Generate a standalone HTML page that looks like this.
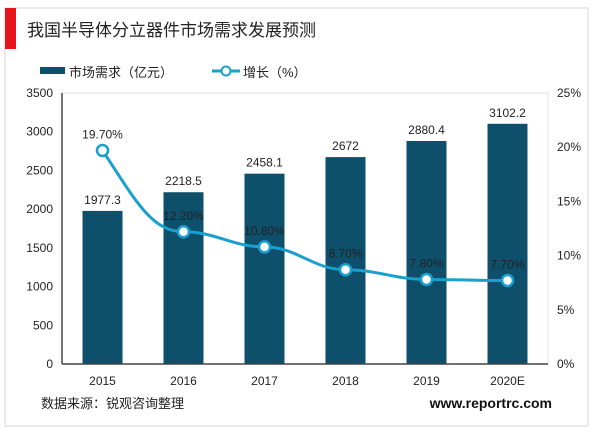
<!DOCTYPE html>
<html><head><meta charset="utf-8"><style>
body{margin:0;background:#fff;width:600px;height:433px;overflow:hidden;font-family:"Liberation Sans","Noto Sans CJK SC",sans-serif}
</style></head><body>
<svg width="600" height="433" xmlns="http://www.w3.org/2000/svg" font-family="Liberation Sans, Noto Sans CJK SC, sans-serif">
<rect x="5" y="8" width="583" height="418" fill="#fff" stroke="#e4e4e4" stroke-width="1.5"/>
<rect x="5" y="8" width="11" height="41" fill="#e8141c"/>
<text x="27" y="36" font-size="17" fill="#222">我国半导体分立器件市场需求发展预测</text>
<g>
<rect x="40" y="67" width="25" height="7" fill="#0e4f6b"/>
<text x="69" y="77" font-size="13" fill="#222">市场需求（亿元）</text>
<line x1="212" y1="71" x2="240" y2="71" stroke="#1aa0cf" stroke-width="3"/>
<circle cx="226" cy="71" r="4.5" fill="#fff" stroke="#1aa0cf" stroke-width="2"/>
<text x="243" y="77" font-size="13" fill="#222">增长（%）</text>
</g>
<g id="chart"></g>
<text x="41" y="408" font-size="13" fill="#222">数据来源：锐观咨询整理</text>
<text x="552" y="408" font-size="14" font-weight="bold" fill="#111" text-anchor="end">www.reportrc.com</text>
</svg>
<script>
const categories=["2015","2016","2017","2018","2019","2020E"];
const demand=[1977.3,2218.5,2458.1,2672,2880.4,3102.2];
const demandLabels=["1977.3","2218.5","2458.1","2672","2880.4","3102.2"];
const growth=[19.7,12.2,10.8,8.7,7.8,7.7];
const leftTicks=[0,500,1000,1500,2000,2500,3000,3500];
const rightTicks=[0,5,10,15,20,25];
const L=62,R=548,T=93,B=364;
const NS="http://www.w3.org/2000/svg";
const g=document.getElementById('chart');
function el(t,a,txt){const e=document.createElementNS(NS,t);for(const k in a)e.setAttribute(k,a[k]);if(txt!==undefined)e.textContent=txt;g.appendChild(e);return e;}
const step=(R-L)/categories.length;
const x=i=>L+step*(i+0.5);
const yL=v=>B-(v/3500)*(B-T);
const yR=v=>B-(v/25)*(B-T);
let e=el('rect',{x:L,y:T,width:R-L,height:B-T,fill:'none',stroke:'#e0e0e0'});

leftTicks.forEach(v=>{e=el('text',{x:L-9,y:yL(v)+4,'font-size':12,'text-anchor':'end',fill:'#222'},String(v));
});
rightTicks.forEach(v=>{e=el('text',{x:R+9,y:yR(v)+4,'font-size':12,fill:'#222'},v+'%');
});
demand.forEach((v,i)=>{
e=el('rect',{x:x(i)-20,y:yL(v),width:40,height:B-yL(v),fill:'#0e4f6b'});

e=el('text',{x:x(i),y:yL(v)-7,'font-size':12,'text-anchor':'middle',fill:'#222'},demandLabels[i]);

e=el('text',{x:x(i),y:385,'font-size':12,'text-anchor':'middle',fill:'#222'},categories[i]);

});
e=el('line',{x1:L,y1:T,x2:L,y2:B,stroke:'#444','stroke-width':1.5});

e=el('line',{x1:L,y1:B,x2:R,y2:B,stroke:'#444','stroke-width':1.5});

let d='';
const pts=growth.map((v,i)=>[x(i),yR(v)]);
d='M'+pts[0][0]+','+pts[0][1];
for(let i=1;i<pts.length;i++){const p=pts[i-1],q=pts[i];const c=(q[0]-p[0])*0.4;
d+=` C${p[0]+c},${p[1]+(i==1?(q[1]-p[1])*0.6:0)} ${q[0]-c},${q[1]} ${q[0]},${q[1]}`;}
e=el('path',{d:d,fill:'none',stroke:'#1aa0cf','stroke-width':3});

growth.forEach((v,i)=>{
e=el('circle',{cx:x(i),cy:yR(v),r:5.5,fill:'#fff',stroke:'#1aa0cf','stroke-width':2.5});

e=el('text',{x:x(i),y:yR(v)-12,'font-size':12,'text-anchor':'middle',fill:'#222'},v.toFixed(2)+'%');

});
</script>
</body></html>
